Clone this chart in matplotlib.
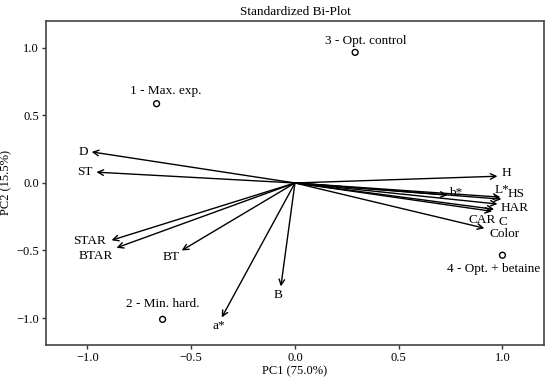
import matplotlib
matplotlib.use("Agg")
import matplotlib.pyplot as plt

plt.rcParams['font.family'] = ['Liberation Serif', 'DejaVu Serif']

# Variable loadings (arrow tips)
var_names = ["H", "b*", "L*", "HS", "HAR", "CAR", "C", "Color",
             "D", "ST", "STAR", "BTAR", "BT", "B", "a*"]
var_pc1 = [0.976, 0.735, 0.99, 0.995, 0.976, 0.96, 0.95, 0.913,
           -0.98, -0.957, -0.884, -0.86, -0.546, -0.068, -0.353]
var_pc2 = [0.05, -0.09, -0.105, -0.12, -0.156, -0.195, -0.21, -0.335,
           0.23, 0.08, -0.424, -0.48, -0.50, -0.766, -0.996]

# Observations (scores)
obs_names = ["1 - Max. exp.", "2 - Min. hard.", "3 - Opt. control", "4 - Opt. + betaine"]
obs_pc1 = [-0.667, -0.638, 0.29, 1.0]
obs_pc2 = [0.587, -1.01, 0.967, -0.535]

# label offsets in pixels (layout)
var_offsets = {"H": (9, 3), "b*": (8, 2), "L*": (2, 7), "HS": (15, 5),
               "HAR": (17, -4), "CAR": (-12, -11), "C": (11, -11), "Color": (20, -6),
               "D": (-8, 0), "ST": (-12, 0), "STAR": (-22, -1), "BTAR": (-21, -8),
               "BT": (-11, -7), "B": (-3, -9), "a*": (-3, -9)}
obs_offsets = {"1 - Max. exp.": (9, 13), "2 - Min. hard.": (0, 15),
               "3 - Opt. control": (11, 11), "4 - Opt. + betaine": (-9, -14)}

fig = plt.figure(figsize=(5.5, 3.8), dpi=100)
ax = fig.add_axes([0.0836, 0.092, 0.9054, 0.853])

for n, x, y in zip(var_names, var_pc1, var_pc2):
    ax.annotate("", xy=(x, y), xytext=(0, 0),
                arrowprops=dict(arrowstyle='->', lw=1.0, color='black',
                                mutation_scale=10, shrinkA=0, shrinkB=0))
    dx, dy = var_offsets[n]
    ax.annotate(n, xy=(x, y), xytext=(dx, dy), textcoords='offset pixels',
                ha='center', va='center', fontsize=9.5)

ax.scatter(obs_pc1, obs_pc2, s=18, facecolors='none', edgecolors='black',
           linewidths=1.0, zorder=3)
for n, x, y in zip(obs_names, obs_pc1, obs_pc2):
    dx, dy = obs_offsets[n]
    ax.annotate(n, xy=(x, y), xytext=(dx, dy), textcoords='offset pixels',
                ha='center', va='center', fontsize=9.5)

ax.set_xlim(-1.2, 1.2)
ax.set_ylim(-1.2, 1.2)
ax.set_xticks([-1.0, -0.5, 0.0, 0.5, 1.0])
ax.set_yticks([-1.0, -0.5, 0.0, 0.5, 1.0])
ax.tick_params(labelsize=9, length=3, width=1, color='#333333', pad=2)
for s in ax.spines.values():
    s.set_color('#444444')
    s.set_linewidth(1.2)
ax.set_title("Standardized Bi-Plot", fontsize=9.5, pad=4)
ax.set_xlabel("PC1 (75.0%)", fontsize=9, labelpad=1)
ax.set_ylabel("PC2 (15.5%)", fontsize=9, labelpad=3)

fig.savefig("out.png", dpi=100)
